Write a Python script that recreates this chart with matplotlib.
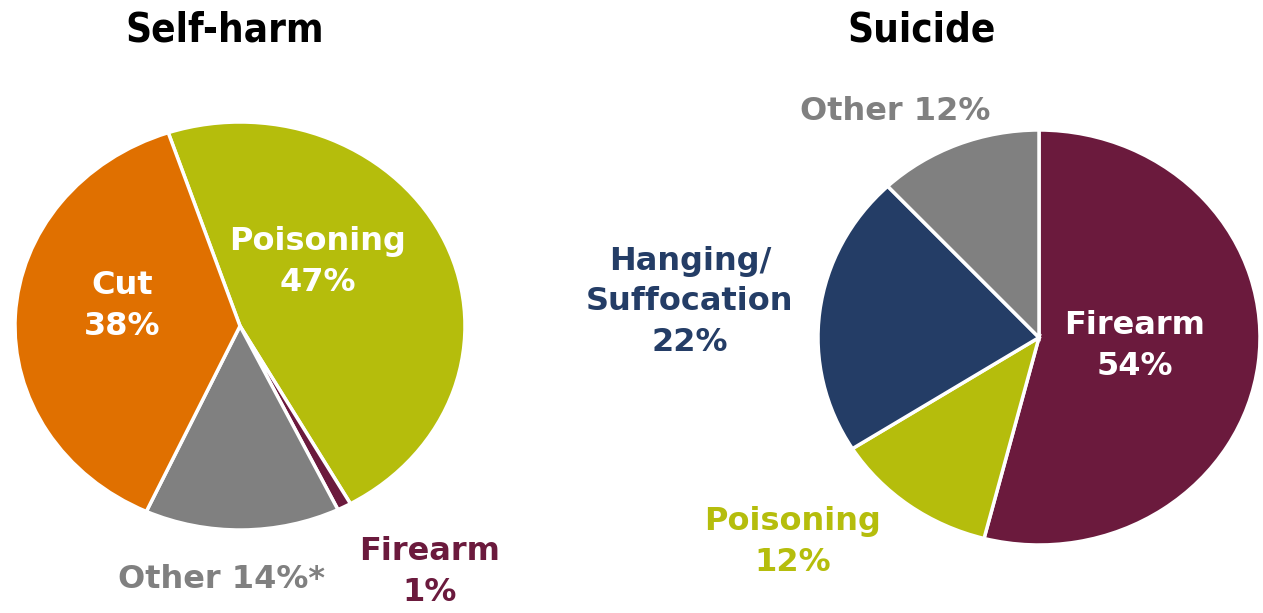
import matplotlib
matplotlib.use("Agg")
import matplotlib.pyplot as plt

# Data
selfharm_labels = ["Poisoning", "Firearm", "Other", "Cut"]
selfharm_values = [47, 1, 14, 38]
selfharm_colors = ["#b5bd0c", "#6b1a3d", "#808080", "#e07000"]

suicide_labels = ["Firearm", "Poisoning", "Hanging/Suffocation", "Other"]
suicide_values = [54, 12, 22, 12]
suicide_colors = ["#6b1a3d", "#b5bd0c", "#243d66", "#808080"]

W, H = 1263, 613
fig = plt.figure(figsize=(W / 100, H / 100), dpi=100)


def px_axes(x0, y0, x1, y1):
    # pixel box (top-left origin) -> figure axes
    return fig.add_axes([x0 / W, 1 - y1 / H, (x1 - x0) / W, (y1 - y0) / H])


def px_text(x, y, s, color, size=23, **kw):
    fig.text(x / W, 1 - y / H, s, color=color, fontsize=size, fontweight="bold",
             ha="center", va="center", linespacing=1.4, **kw)


ax1 = px_axes(15, 122, 465, 530)
ax1.pie(selfharm_values, colors=selfharm_colors, startangle=108.6, counterclock=False,
        wedgeprops=dict(edgecolor="white", linewidth=2.5), radius=1)
ax1.set_aspect("auto")
ax1.set_xlim(-1, 1)
ax1.set_ylim(-1, 1)
ax1.axis("off")

ax2 = px_axes(818, 130, 1260, 545)
ax2.pie(suicide_values, colors=suicide_colors, startangle=90, counterclock=False,
        wedgeprops=dict(edgecolor="white", linewidth=2.5), radius=1)
ax2.set_aspect("auto")
ax2.set_xlim(-1, 1)
ax2.set_ylim(-1, 1)
ax2.axis("off")

fig.text(225 / W, 1 - 30 / H, "Self-harm", fontsize=29, fontweight="bold",
         fontstretch="condensed", ha="center", va="center")
fig.text(922 / W, 1 - 30 / H, "Suicide", fontsize=29, fontweight="bold",
         fontstretch="condensed", ha="center", va="center")

# Self-harm labels
px_text(122, 306, f"{selfharm_labels[3]}\n{selfharm_values[3]}%", "white")
px_text(318, 262, f"{selfharm_labels[0]}\n{selfharm_values[0]}%", "white")
px_text(222, 580, f"{selfharm_labels[2]} {selfharm_values[2]}%*", "#808080")
px_text(430, 572, f"{selfharm_labels[1]}\n{selfharm_values[1]}%", "#6b1a3d")

# Suicide labels
px_text(895, 111, f"{suicide_labels[3]} {suicide_values[3]}%", "#808080")
px_text(690, 302, f"Hanging/\nSuffocation\n{suicide_values[2]}%", "#243d66")
px_text(1135, 346, f"{suicide_labels[0]}\n{suicide_values[0]}%", "white")
px_text(793, 542, f"{suicide_labels[1]}\n{suicide_values[1]}%", "#b5bd0c")

fig.savefig("out.png", dpi=100)
